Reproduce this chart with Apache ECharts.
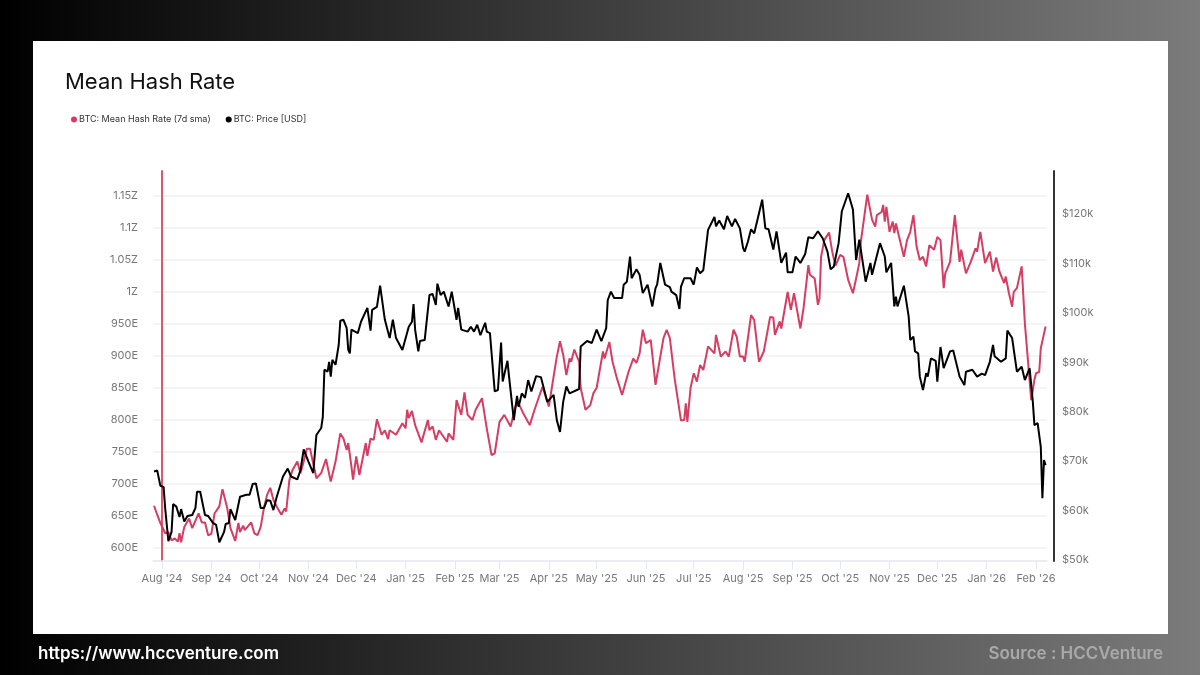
<!DOCTYPE html>
<html>
<head>
<meta charset="utf-8">
<title>Mean Hash Rate</title>
<style>
    html, body { margin: 0; padding: 0; background: #000; }
    #chart { width: 1200px; height: 675px; }
</style>
<script src="https://cdn.jsdelivr.net/npm/echarts@6/dist/echarts.min.js"></script>
</head>
<body>
<div id="chart"></div>
<script>
// days are counted from 1 Aug 2024
var hashDays = [-5,-3,-1,0,2,4,6,8,10,11,12,14,17,19,23,25,27,29,31,33,36,38,41,43,46,48,49,51,52,56,58,60,62,64,66,68,70,72,75,77,78,80,82,85,87,89,91,93,97,100,103,106,109,112,114,116,117,119,120,122,124,128,129,131,133,135,138,140,142,143,147,151,153,154,155,157,159,163,167,168,170,172,174,179,180,183,185,188,190,192,195,197,201,204,207,209,212,215,219,222,224,227,231,234,239,243,246,248,250,252,254,256,257,259,262,263,266,269,271,273,277,278,281,283,286,289,293,296,298,300,302,304,307,310,315,317,319,321,322,323,326,328,329,330,332,334,336,338,340,343,347,348,351,354,356,359,361,363,365,366,370,372,375,378,382,384,385,388,389,393,395,397,401,403,406,407,410,412,413,414,416,419,421,423,426,428,431,434,436,438,439,443,446,448,449,452,453,454,455,457,459,460,461,466,468,470,472,474,476,478,480,482,485,487,489,491,492,495,498,501,502,505,508,511,512,514,517,520,522,524,526,529,530,532,534,535,537,540,542,546,548,549,551,552,553,555];
var hashRate = [666,652,639,640,623,625,612,615,610,623,609,633,646,631,654,640,640,620,622,654,665,692,662,631,611,639,625,635,628,640,623,620,633,662,683,694,675,665,652,662,657,706,722,735,717,735,755,755,709,717,739,704,735,779,771,753,764,727,707,743,714,764,744,771,769,801,777,784,770,784,777,795,787,816,803,814,792,765,800,784,790,769,784,766,779,769,831,808,843,808,800,816,834,787,745,748,797,808,790,821,826,810,792,816,852,821,868,899,923,902,870,896,891,910,891,850,816,823,842,850,907,896,922,891,863,839,875,896,889,904,941,920,925,855,928,941,928,886,865,868,799,800,826,797,850,873,860,886,878,915,904,933,899,907,899,941,930,899,899,891,964,956,891,907,961,960,933,954,943,1000,972,998,943,975,1042,1027,1021,980,990,1055,1081,1093,1063,1041,1058,1055,1019,998,1021,1045,1079,1152,1113,1102,1120,1125,1136,1110,1133,1094,1110,1092,1107,1055,1081,1094,1120,1071,1050,1055,1040,1073,1066,1086,1081,1006,1029,1047,1120,1047,1066,1029,1047,1068,1063,1094,1045,1063,1032,1054,1032,1014,1024,998,977,1000,1006,1040,951,831,863,873,875,912,914,946];

var priceDays = [-5,-3,-1,1,2,4,6,7,9,11,12,14,16,19,21,22,24,27,29,32,34,36,39,40,42,43,46,49,53,55,57,59,62,64,66,68,70,72,73,76,79,81,85,87,89,90,92,95,97,100,101,102,104,105,106,107,109,111,112,114,116,117,118,119,120,123,125,126,129,131,132,135,137,138,140,143,145,146,147,151,155,157,158,159,161,162,165,168,170,172,173,175,177,180,182,185,186,188,192,194,196,198,200,203,204,206,209,211,213,214,217,218,221,223,224,226,228,230,232,235,238,242,246,248,250,252,254,256,262,263,267,270,273,276,279,280,282,284,289,290,292,294,295,298,300,302,305,308,310,311,313,314,316,319,320,323,325,326,328,332,334,336,338,340,343,347,348,350,353,355,358,360,363,365,366,368,370,372,374,377,379,381,384,385,386,389,392,393,396,398,401,404,406,409,412,415,418,420,422,425,427,431,434,436,438,442,445,446,451,454,455,458,460,461,462,466,469,470,472,473,475,476,478,480,481,483,486,487,489,491,495,497,501,504,505,509,512,515,517,520,522,523,527,530,531,534,537,540,542,545,547,548,550,552,553,554,555];
var priceUsd = [67.9,68.1,65.0,64.8,60.5,53.8,55.7,61.3,60.8,58.7,60.3,57.8,58.9,59.1,60.5,63.8,63.8,59.1,58.9,57.5,57.1,53.6,55.7,57.3,57.5,60.3,58.1,62.8,63.2,63.2,65.4,65.5,60.5,60.5,62.1,62.0,60.1,62.7,62.8,66.9,68.5,66.9,66.3,68.2,72.4,72.3,69.9,67.6,75.3,76.7,78.9,88.5,88.1,90.1,87.1,90.5,89.5,93.5,98.4,98.6,96.9,92.5,91.8,96.6,96.9,95.9,98.2,98.6,101.0,96.4,100.6,101.2,105.5,105.7,98.6,94.9,98.6,98.9,94.9,92.5,97.2,98.2,101.8,96.6,92.2,94.3,94.5,103.6,103.8,101.6,105.9,103.6,104.3,101.3,104.3,98.6,101.0,96.6,96.2,97.2,96.2,97.6,95.5,98.0,96.2,95.9,84.1,84.4,94.0,86.1,90.3,87.1,78.3,83.2,81.0,83.7,82.8,86.4,84.1,87.2,87.0,82.0,83.4,78.3,75.9,82.0,85.1,83.7,84.6,93.2,94.3,93.9,96.6,94.3,96.9,102.6,104.3,103.0,103.0,105.7,106.3,111.4,107.0,108.8,107.7,104.0,105.7,101.3,105.0,105.7,110.1,109.7,105.7,105.2,104.3,103.6,100.8,105.3,107.0,107.0,105.7,109.2,108.0,108.6,116.8,119.4,117.5,118.7,116.9,119.6,117.5,119.0,117.1,113.1,112.4,114.4,116.9,116.1,118.8,122.9,117.1,116.9,112.8,112.4,116.5,110.1,112.2,108.2,108.2,111.4,110.1,111.9,115.3,115.1,116.5,115.1,112.4,108.8,109.4,114.1,120.5,124.2,120.9,110.7,114.8,106.3,110.1,107.7,114.1,111.4,108.2,110.1,101.3,103.3,101.3,105.5,99.3,94.5,95.2,92.2,91.8,87.1,84.4,87.8,87.1,90.8,90.3,86.1,93.1,88.8,92.2,92.4,87.1,85.4,88.1,88.5,87.1,87.7,87.4,90.1,93.5,91.2,90.1,90.8,96.4,94.9,88.1,89.1,86.4,88.8,82.0,77.3,77.7,72.9,62.5,70.2,69.2];

var monthDays = [0,31,61,92,122,153,184,212,243,273,304,334,365,396,426,457,487,518,549];
var monthLabels = ["Aug '24","Sep '24","Oct '24","Nov '24","Dec '24","Jan '25","Feb '25","Mar '25","Apr '25","May '25","Jun '25","Jul '25","Aug '25","Sep '25","Oct '25","Nov '25","Dec '25","Jan '26","Feb '26"];
var hashTicks = [600,650,700,750,800,850,900,950,1000,1050,1100,1150];
var hashTickLabels = ['600E','650E','700E','750E','800E','850E','900E','950E','1Z','1.05Z','1.1Z','1.15Z'];
var priceTicks = [50,60,70,80,90,100,110,120];
var priceTickLabels = ['$50k','$60k','$70k','$80k','$90k','$100k','$110k','$120k'];

var FONT = 'Inter';
var RED = '#d63d62';

function zip(xs, ys) {
    return xs.map(function(x, i) {
        return [x, ys[i]];
    });
}

function labelOf(values, labels) {
    return function(v) {
        var i = values.indexOf(v);
        return i < 0 ? '' : labels[i];
    };
}

var chart = echarts.init(document.getElementById('chart'));

chart.setOption({
    animation: false,
    //页面背景
    backgroundColor: new echarts.graphic.LinearGradient(0, 0, 1, 0, [
        { offset: 0, color: '#000000' },
        { offset: 1, color: '#7b7b7b' }
    ]),
    graphic: [{
        type: 'rect',
        z: -1,
        shape: { x: 33, y: 41, width: 1135, height: 593 },
        style: { fill: '#ffffff' }
    }],
    title: [
        { text: 'Mean Hash Rate', left: 60, top: 66, textStyle: { fontFamily: FONT, fontSize: 22, fontWeight: 400, color: '#111111' } },
        { text: 'https://www.hccventure.com', left: 33, top: 640, textStyle: { fontFamily: FONT, fontSize: 17, fontWeight: 600, color: '#ffffff' } },
        { text: 'Source : HCCVenture', right: 32, top: 640, textStyle: { fontFamily: FONT, fontSize: 17, fontWeight: 600, color: '#a9a9a9' } }
    ],
    legend: {
        left: 66,
        top: 110,
        icon: 'circle',
        itemWidth: 6,
        itemHeight: 6,
        itemGap: 15,
        textStyle: { fontFamily: FONT, fontSize: 9, color: '#333333', padding: [0, 0, 0, -3] }
    },
    grid: { left: 153, right: 153, top: 171, bottom: 114 },
    xAxis: {
        type: 'value',
        min: -5.65,
        max: 555.9,
        axisLine: { lineStyle: { color: '#e6e8f1', width: 1.5 } },
        axisTick: { length: 8, customValues: monthDays, lineStyle: { color: '#e6e8f1' } },
        axisLabel: {
            customValues: monthDays,
            margin: 12,
            fontFamily: FONT,
            fontSize: 11,
            color: '#777777',
            formatter: labelOf(monthDays, monthLabels)
        },
        splitLine: { show: false }
    },
    yAxis: [{
        type: 'value',
        min: 579.7,
        max: 1189,
        offset: 6,
        axisLine: { show: true, lineStyle: { color: '#e0566f', width: 2 } },
        axisTick: { show: false, customValues: hashTicks },
        axisLabel: {
            customValues: hashTicks,
            margin: 9,
            fontFamily: FONT,
            fontSize: 11,
            color: '#777777',
            formatter: labelOf(hashTicks, hashTickLabels)
        },
        splitLine: { show: true, customValues: hashTicks, lineStyle: { color: '#f1f1f4', width: 1.5 } }
    }, {
        type: 'value',
        min: 49.8,
        max: 128.7,
        offset: 7,
        axisLine: { show: true, lineStyle: { color: '#333333', width: 2 } },
        axisTick: { show: false, customValues: priceTicks },
        axisLabel: {
            customValues: priceTicks,
            margin: 8,
            fontFamily: FONT,
            fontSize: 11,
            color: '#777777',
            formatter: labelOf(priceTicks, priceTickLabels)
        },
        splitLine: { show: false }
    }],
    series: [{
        name: 'BTC: Mean Hash Rate (7d sma)',
        type: 'line',
        yAxisIndex: 0,
        showSymbol: false,
        data: zip(hashDays, hashRate),
        itemStyle: { color: RED },
        lineStyle: { color: RED, width: 2 }
    }, {
        name: 'BTC: Price [USD]',
        type: 'line',
        yAxisIndex: 1,
        showSymbol: false,
        data: zip(priceDays, priceUsd),
        itemStyle: { color: '#000000' },
        lineStyle: { color: '#000000', width: 2 }
    }]
});
</script>
</body>
</html>
